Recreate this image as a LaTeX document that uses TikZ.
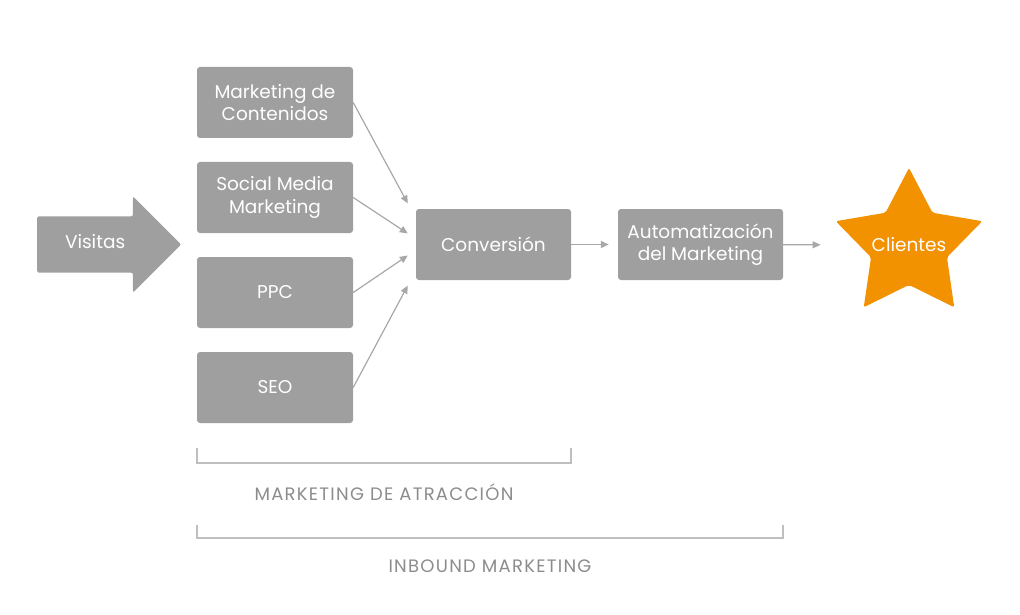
\documentclass[tikz,border=0pt]{standalone}
\usepackage{fontspec}
\setmainfont{Poppins}
\newfontfamily\lblfam[LetterSpace=7]{Poppins}
\usepackage{xcolor}
\usetikzlibrary{shapes.geometric, shapes.arrows, arrows.meta, positioning}

\definecolor{boxgray}{HTML}{9F9F9F}
\definecolor{linegray}{HTML}{A8A8A8}
\definecolor{brkgray}{HTML}{BFBFBF}
\definecolor{txtgray}{HTML}{8C8C8C}
\definecolor{starorange}{HTML}{F39200}
\newcommand{\boxtxt}{\fontsize{18.5}{22.5}\selectfont}
\newcommand{\lbltxt}{\lblfam\fontsize{18}{22}\selectfont}

\begin{document}
\begin{tikzpicture}[
  x=1pt, y=-1pt,
  >={Triangle[length=8pt, width=7pt]},
  box/.style={rectangle, rounded corners=3pt, fill=boxgray, text=white, minimum width=156pt, minimum height=71pt, inner sep=0pt, align=center, font=\boxtxt},
  arr/.style={->, draw=linegray, line width=1.2pt},
  brk/.style={draw=brkgray, line width=1.2pt},
  lbl/.style={text=txtgray, font=\lbltxt},
]
  \useasboundingbox (0,0) rectangle (1020,615);

  \node[single arrow, single arrow head extend=20pt, text height=12pt, text depth=4pt, inner ysep=20pt, inner xsep=12pt, minimum height=144pt, fill=boxgray, text=white, font=\boxtxt, rounded corners=2pt, anchor=tail] (vis) at (37,244.5) {Visitas};

  \node[box] (cont) at (275,102.5) {Marketing de\\Contenidos};
  \node[box] (smm) at (275,197.5) {Social Media\\Marketing};
  \node[box] (ppc) at (275,292.5) {PPC};
  \node[box] (seo) at (275,387.5) {SEO};
  \node[box, minimum width=155pt] (conv) at (493.5,244.5) {Conversión};
  \node[box, minimum width=165pt] (auto) at (700.5,244.5) {Automatización\\del Marketing};
  \node[star, star points=5, star point ratio=1.93, minimum size=154pt, inner sep=0pt, rounded corners=2pt, fill=starorange, text=white, font=\boxtxt] (cli) at (909,245) {\makebox[0pt]{Clientes}};

  \draw[arr] (cont.east) -- ([xshift=-8pt, yshift=41pt]conv.west);
  \draw[arr] (smm.east) -- ([xshift=-8pt, yshift=11pt]conv.west);
  \draw[arr] (ppc.east) -- ([xshift=-8pt, yshift=-11pt]conv.west);
  \draw[arr] (seo.east) -- ([xshift=-8pt, yshift=-41pt]conv.west);
  \draw[arr, shorten >=9pt] (conv) -- (auto);
  \draw[arr, shorten >=38pt] (auto) -- (cli);

  % corchetes inferiores
  \draw[brk] (197,448) -- (197,463) -- (571,463) -- (571,448);
  \node[lbl] (atr) at (384,492) {MARKETING DE ATRACCIÓN};
  \draw[brk] (197,525) -- (197,538) -- (783,538) -- (783,525);
  \node[lbl] (inb) at (490,566) {INBOUND MARKETING};
\end{tikzpicture}
\end{document}
